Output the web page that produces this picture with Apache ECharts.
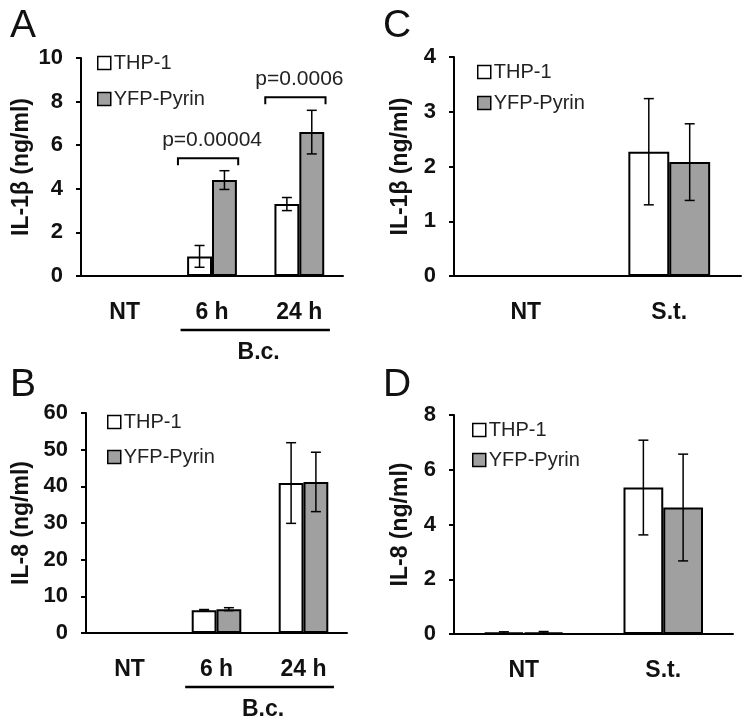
<!DOCTYPE html>
<html><head><meta charset="utf-8">
<script src="https://cdn.jsdelivr.net/npm/echarts@6/dist/echarts.min.js"></script>
<style>html,body{margin:0;padding:0;background:#fff}#c{width:750px;height:727px}</style>
</head><body><div id="c"></div>
<script>
// ---- data ----
const catsAB = ['NT', '6 h', '24 h'];
const catsCD = ['NT', 'S.t.'];
const aTHP = [0, 0.9, 3.3];
const aTHPerr = [0, 0.5, 0.3];
const aYFP = [0, 4.4, 6.6];
const aYFPerr = [0, 0.43, 1.0];
const bTHP = [0, 6.2, 40.9];
const bTHPerr = [0, 0.2, 11];
const bYFP = [0, 6.5, 41.2];
const bYFPerr = [0, 0.4, 8.1];
const cTHP = [0, 2.27];
const cTHPerr = [0, 0.97];
const cYFP = [0, 2.08];
const cYFPerr = [0, 0.7];
const dTHP = [0.05, 5.35];
const dTHPerr = [0.03, 1.73];
const dYFP = [0.06, 4.62];
const dYFPerr = [0.03, 1.95];
const pCats = [1, 2];
const pLevels = [5.4, 8.2];
const pTexts = ['p=0.00004', 'p=0.0006'];
const groupLabel = 'B.c.';
const groupRange = [1, 2];
const yTitles = ['IL-1β (ng/ml)', 'IL-8 (ng/ml)', 'IL-1β (ng/ml)', 'IL-8 (ng/ml)'];
const panelLetters = ['A', 'B', 'C', 'D'];

const FONT = 'Liberation Sans, Arial, sans-serif';
const GAP = 0.43;
const GRAY = '#a0a0a0';

const chart = echarts.init(document.getElementById('c'));

const grids = [
  {left: 81, top: 58, width: 262, height: 218},
  {left: 86, top: 413, width: 261, height: 220},
  {left: 454, top: 57, width: 287, height: 219},
  {left: 454, top: 415, width: 279, height: 219}
];
const yCfg = [
  {max: 10, interval: 2, gap: 48},
  {max: 60, interval: 10, gap: 53},
  {max: 4, interval: 1, gap: 42},
  {max: 8, interval: 2, gap: 42}
];

const xAxes = grids.map((g, i) => ({
  type: 'category', gridIndex: i, data: i < 2 ? catsAB : catsCD,
  axisLine: {lineStyle: {color: '#000', width: 2}},
  axisTick: {length: 6, lineStyle: {color: '#000', width: 2}},
  axisLabel: {color: '#111', fontFamily: FONT, fontWeight: 'bold', fontSize: 23, margin: 25}
}));
const yAxes = grids.map((g, i) => ({
  type: 'value', gridIndex: i, min: 0, max: yCfg[i].max, interval: yCfg[i].interval,
  name: yTitles[i], nameLocation: 'middle', nameGap: yCfg[i].gap,
  nameTextStyle: {color: '#111', fontFamily: FONT, fontWeight: 'bold', fontSize: 23},
  axisLine: {show: true, lineStyle: {color: '#000', width: 2}},
  axisTick: {show: true, length: 5, lineStyle: {color: '#000', width: 2}},
  axisLabel: {color: '#111', fontFamily: FONT, fontWeight: 'bold', fontSize: 22, margin: 18},
  splitLine: {show: false}
}));

function errRender(sign) {
  return function (params, api) {
    const cat = api.value(0), v = api.value(1), e = api.value(2);
    if (!e) return null;
    const band = api.size([1, 0])[0];
    const bw = band * (1 - GAP) / 2;
    const cx = api.coord([cat, v])[0] + sign * bw / 2;
    const hi = api.coord([cat, v + e])[1];
    const lo = api.coord([cat, Math.max(v - e, 0)])[1];
    const cap = 5;
    const st = {stroke: '#000', lineWidth: 1.5};
    return {type: 'group', children: [
      {type: 'line', shape: {x1: cx, y1: hi, x2: cx, y2: lo}, style: st},
      {type: 'line', shape: {x1: cx - cap, y1: hi, x2: cx + cap, y2: hi}, style: st},
      {type: 'line', shape: {x1: cx - cap, y1: lo, x2: cx + cap, y2: lo}, style: st}
    ]};
  };
}

const sets = [
  [aTHP, aTHPerr, aYFP, aYFPerr],
  [bTHP, bTHPerr, bYFP, bYFPerr],
  [cTHP, cTHPerr, cYFP, cYFPerr],
  [dTHP, dTHPerr, dYFP, dYFPerr]
];

const series = [];
sets.forEach((s, i) => {
  series.push({
    name: 'THP-1', type: 'bar', xAxisIndex: i, yAxisIndex: i, data: s[0],
    barGap: '0%', barCategoryGap: (GAP * 100) + '%',
    itemStyle: {color: '#fff', borderColor: '#000', borderWidth: 2}, z: 2
  });
  series.push({
    name: 'YFP-Pyrin', type: 'bar', xAxisIndex: i, yAxisIndex: i, data: s[2],
    barGap: '0%', barCategoryGap: (GAP * 100) + '%',
    itemStyle: {color: GRAY, borderColor: '#000', borderWidth: 2}, z: 2
  });
  series.push({
    type: 'custom', xAxisIndex: i, yAxisIndex: i, z: 5, silent: true,
    renderItem: errRender(-1),
    data: s[0].map((v, k) => [k, v, s[1][k]])
  });
  series.push({
    type: 'custom', xAxisIndex: i, yAxisIndex: i, z: 5, silent: true,
    renderItem: errRender(1),
    data: s[2].map((v, k) => [k, v, s[3][k]])
  });
});

// p-value brackets (panel A)
series.push({
  type: 'custom', xAxisIndex: 0, yAxisIndex: 0, z: 6, silent: true,
  data: pCats.map((c, k) => [c, pLevels[k]]),
  renderItem: function (params, api) {
    const c = api.value(0), y = api.value(1);
    const band = api.size([1, 0])[0];
    const p = api.coord([c, y]);
    const x1 = p[0] - 0.39 * band, x2 = p[0] + 0.3 * band;
    return {type: 'group', children: [
      {type: 'polyline', shape: {points: [[x1, p[1] + 7], [x1, p[1]], [x2, p[1]], [x2, p[1] + 7]]},
       style: {stroke: '#000', lineWidth: 2, fill: null}},
      {type: 'text', x: (x1 + x2) / 2 + 4, y: p[1] - 8,
       style: {text: pTexts[params.dataIndex], fill: '#222', font: '21px ' + FONT, align: 'center', verticalAlign: 'bottom'}}
    ]};
  }
});

// group labels under the axis (panels A and B)
[0, 1].forEach(i => {
  series.push({
    type: 'custom', xAxisIndex: i, yAxisIndex: i, z: 6, silent: true, clip: false,
    data: [[groupRange[0], groupRange[1]]],
    renderItem: function (params, api) {
      const band = api.size([1, 0])[0];
      const a = api.coord([api.value(0), 0]);
      const b = api.coord([api.value(1), 0]);
      const x1 = a[0] - 0.36 * band, x2 = b[0] + 0.35 * band;
      const y = a[1] + 54;
      return {type: 'group', children: [
        {type: 'line', shape: {x1: x1, y1: y, x2: x2, y2: y}, style: {stroke: '#000', lineWidth: 2.5}},
        {type: 'text', x: (a[0] + b[0]) / 2 + 3, y: a[1] + 77,
         style: {text: groupLabel, fill: '#111', font: 'bold 23px ' + FONT, align: 'center', verticalAlign: 'middle'}}
      ]};
    }
  });
});

const legendPos = [
  {left: 97, top: 53, itemGap: 16},
  {left: 107, top: 412, itemGap: 15},
  {left: 477, top: 62, itemGap: 11},
  {left: 472, top: 420, itemGap: 10}
];
const legends = legendPos.map(p => ({
  orient: 'vertical', left: p.left, top: p.top, itemGap: p.itemGap, padding: 0,
  itemWidth: 13, itemHeight: 13, icon: 'rect', selectedMode: false,
  itemStyle: {borderColor: '#000', borderWidth: 1.5},
  textStyle: {color: '#222', fontFamily: FONT, fontSize: 20, lineHeight: 20, padding: [0, 0, 0, -2]},
  data: ['THP-1', 'YFP-Pyrin']
}));

const titlePos = [[10, 7], [10, 366], [383, 7], [383, 366]];
const titles = panelLetters.map((t, i) => ({
  text: t, left: titlePos[i][0], top: titlePos[i][1], padding: 0,
  textStyle: {fontFamily: FONT, fontWeight: 'normal', fontSize: 39, color: '#111'}
}));

chart.setOption({
  animation: false,
  title: titles,
  legend: legends,
  grid: grids,
  xAxis: xAxes,
  yAxis: yAxes,
  series: series
});
</script>
</body></html>
